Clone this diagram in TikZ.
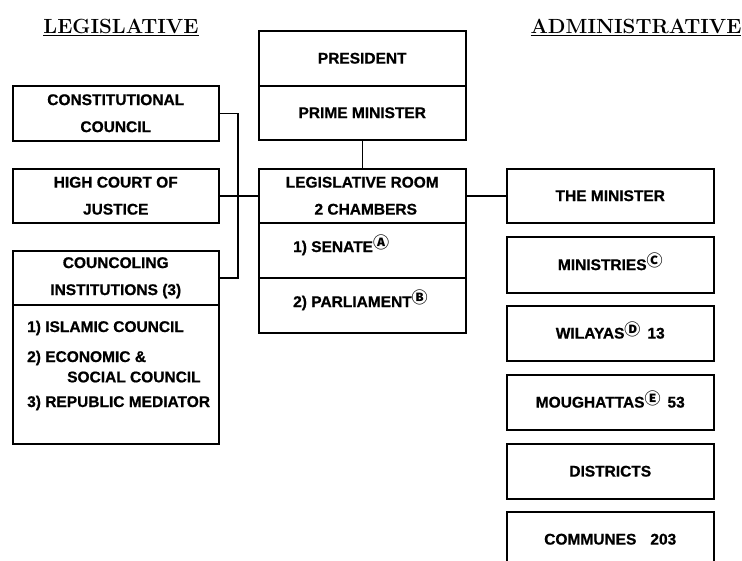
\documentclass[tikz,border=0pt]{standalone}
\usepackage{fontspec}
\setsansfont{Liberation Sans}[BoldFont={Liberation Sans Bold},BoldFeatures={FakeBold=0.8}]
\newfontfamily\circfont{Noto Sans CJK JP}
% circled reference mark set as a raised superscript, kept out of the line height
\newcommand{\cmark}[1]{\smash{\raisebox{3.5pt}{\circfont\fontsize{16}{16}\selectfont #1}}}
\begin{document}
\begin{tikzpicture}[x=1pt,y=-1pt,
  txt/.style={font=\sffamily\bfseries\fontsize{15.5}{27}\selectfont},
  box/.style={draw,line width=1.5pt,inner sep=0pt,anchor=north west,
              align=center,txt},
  lbl/.style={inner sep=0pt,anchor=west,txt},
  heading/.style={inner sep=0pt,font=\bfseries\fontsize{20.5}{24}\selectfont},
  link/.style={line width=1.5pt}]
\useasboundingbox (0,0) rectangle (742,560);
\clip (0,0) rectangle (742,560);

% column headings
\node[heading] (hleg) at (121,27) {\underline{LEGISLATIVE}};
\node[heading] (hadm) at (636,27) {\underline{ADMINISTRATIVE}};

% legislative column
\node[box,minimum width=206pt,minimum height=55pt] (cc) at (12,85)
  {CONSTITUTIONAL\\COUNCIL};
\node[box,minimum width=206pt,minimum height=54pt] (hc) at (12,168)
  {HIGH COURT OF\\JUSTICE};
\node[box,minimum width=206pt,minimum height=54pt] (ci) at (12,250)
  {COUNCOLING\\INSTITUTIONS (3)};
\node[box,minimum width=206pt,minimum height=139pt] (cl) at (12,304) {};
\node[lbl] (isl) at (27,328) {1) ISLAMIC COUNCIL};
\node[lbl] (eco) at (27,358) {2) ECONOMIC \&};
\node[lbl] (soc) at (67,377) {SOCIAL COUNCIL};
\node[lbl] (rep) at (27,403) {3) REPUBLIC MEDIATOR};

% executive column
\node[box,minimum width=207pt,minimum height=55pt] (pres) at (258,30) {PRESIDENT};
\node[box,minimum width=207pt,minimum height=54pt] (pm) at (258,85) {PRIME MINISTER};
\node[box,minimum width=207pt,minimum height=54pt] (lr) at (258,168)
  {LEGISLATIVE ROOM\\\hspace*{7pt}2 CHAMBERS};
\node[box,minimum width=207pt,minimum height=55pt] (sen) at (258,222) {};
\node[box,minimum width=207pt,minimum height=55pt] (parl) at (258,277) {};
\node[lbl] (sent) at (293,248) {1) SENATE\cmark{Ⓐ}};
\node[lbl] (parlt) at (293,303) {2) PARLIAMENT\cmark{Ⓑ}};

% administrative column
\node[box,minimum width=207pt,minimum height=54pt] (min) at (506,168) {THE MINISTER};
\node[box,minimum width=207pt,minimum height=56pt] (mins) at (506,236) {MINISTRIES\cmark{Ⓒ}};
\node[box,minimum width=207pt,minimum height=55pt] (wil) at (506,305) {WILAYAS\cmark{Ⓓ}\hspace{7pt}13};
\node[box,minimum width=207pt,minimum height=55pt] (mou) at (506,374) {MOUGHATTAS\cmark{Ⓔ}\hspace{7pt}53};
\node[box,minimum width=207pt,minimum height=55pt] (dis) at (506,443) {DISTRICTS};
\node[box,minimum width=207pt,minimum height=55pt] (com) at (506,511) {COMMUNES\hspace{14pt}203};

% connectors
\coordinate (bus) at (238,0);
\draw[link] (cc.east) -| (bus |- ci.east) -- (ci.east);
\draw[link] (hc.east) -- (lr.west);
\draw[link] (pm.south) -- (lr.north);
\draw[link] (lr.east) -- (min.west);
\end{tikzpicture}
\end{document}
